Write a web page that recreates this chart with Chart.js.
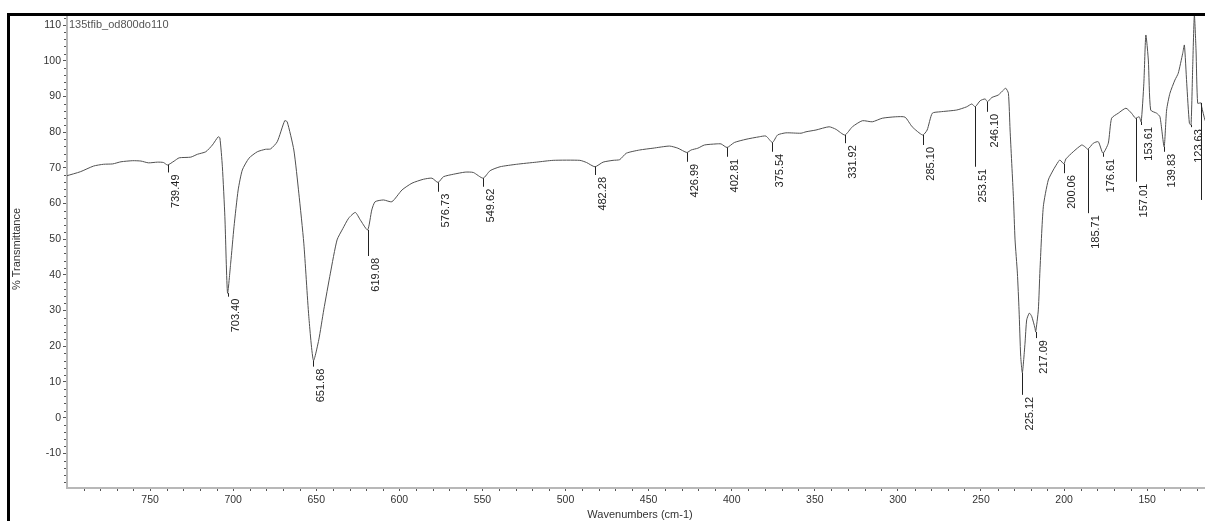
<!DOCTYPE html>
<html>
<head>
<meta charset="utf-8">
<script src="https://cdn.jsdelivr.net/npm/chart.js@4.4.1/dist/chart.umd.min.js"></script>
<style>
html,body{margin:0;padding:0;background:#fff;overflow:hidden;}
canvas{display:block;}
</style>
</head>
<body>
<canvas id="c" width="1205" height="521" style="width:1205px;height:521px"></canvas>
<script>
// ---- data (wavenumber cm-1, % transmittance) ----
const wavenumbers = [
  800, 792, 784, 778, 772.5, 767.5, 760.5, 755.5, 751, 745.5, 742, 739.5, 735.5, 732.5, 725.5, 721.5, 716.5, 712.5, 709, 708,
  706.5, 705, 703.4, 701.5, 699.5, 697, 694.5, 690.5, 685.5, 680.5, 677.5, 673.5, 669, 667.5, 663.5, 660.5, 657.5, 654.5, 651.7, 648.5,
  645.5, 641.5, 637.5, 634, 630.5, 626.5, 623.5, 619.1, 616.6, 614.6, 609.5, 604.5, 598.4, 592.4, 585.5, 580.4, 576.7, 573.5, 567.5, 560.4,
  555.5, 549.6, 545.4, 539.4, 529.4, 517.4, 507.4, 491.4, 487.4, 482.3, 477.4, 471.4, 467.4, 463.4, 455.4, 447.4, 437.4, 432.4, 427, 424.4,
  420.4, 416.4, 409.4, 406.4, 402.8, 398.4, 391.4, 383.4, 379.4, 375.5, 372.4, 367.4, 358.3, 355.3, 349.3, 341.4, 337.3, 331.9, 327.4, 321.4,
  315.4, 309.4, 301.3, 295.7, 291.4, 285.1, 282.4, 279.3, 274.6, 264.6, 258.6, 255.5, 253.5, 250.5, 247.5, 246.1, 243.5, 239.6, 236.5, 235.1,
  233.5, 232.5, 230.5, 229.5, 228.1, 227.1, 226.1, 225.1, 223.5, 222.5, 220.9, 219.5, 217.5, 217.1, 215.5, 214.5, 212.5, 209.5, 206.5, 203.5,
  202.5, 200.1, 198.9, 194.5, 189.4, 187.4, 185.7, 182.4, 179.4, 176.6, 173.4, 171.4, 167.4, 162.8, 159.4, 157.0, 154.8, 153.6, 152.0, 150.8,
  149.3, 147.9, 144.3, 142.3, 139.8, 138.3, 136.3, 133.3, 131.3, 128.6, 127.6, 126.2, 124.6, 123.6, 122.6, 121.6, 120.6, 119.6, 117.7, 117.2,
  115.2, 112
];
const transmittance = [
  67.8, 68.9, 70.5, 71.0, 71.1, 71.7, 72.0, 71.9, 71.4, 71.6, 71.5, 70.8, 71.9, 72.8, 73.0, 73.8, 74.5, 76.4, 78.7, 78.4,
  70.3, 56.3, 34.9, 43.3, 53.5, 63.8, 69.4, 72.7, 74.5, 75.2, 75.3, 77.3, 83.2, 82.9, 75.0, 62.9, 48.9, 28.4, 16.0, 21.8,
  30.2, 40.5, 49.8, 53.0, 55.9, 57.5, 55.4, 52.6, 58.2, 60.5, 61.0, 60.5, 63.8, 65.7, 66.8, 67.1, 65.9, 67.5, 68.2, 68.8,
  68.7, 67.1, 69.2, 70.3, 71.0, 71.6, 72.1, 72.1, 71.5, 70.3, 71.6, 72.1, 72.3, 74.1, 75.0, 75.5, 76.1, 75.5, 74.3, 75.0,
  75.5, 76.4, 76.7, 76.7, 75.7, 77.1, 78.0, 78.7, 78.9, 77.1, 79.2, 79.8, 79.7, 80.1, 80.6, 81.5, 80.8, 79.2, 81.5, 83.2,
  82.9, 83.9, 84.3, 84.2, 81.5, 79.2, 80.6, 85.3, 85.7, 86.2, 87.1, 87.9, 87.1, 88.8, 89.3, 88.5, 89.7, 90.4, 91.8, 92.3,
  90.9, 80.6, 61.9, 49.8, 40.5, 30.2, 17.2, 12.6, 20.9, 27.4, 29.3, 28.4, 25.1, 24.0, 30.2, 41.4, 59.1, 66.6, 69.4, 71.7,
  72.2, 71.1, 72.5, 74.5, 76.4, 75.9, 75.2, 76.9, 77.3, 74.1, 76.9, 83.9, 85.3, 86.7, 85.3, 83.9, 84.3, 82.9, 93.7, 107.2,
  100.2, 86.2, 85.3, 84.3, 75.9, 86.2, 90.9, 94.6, 96.5, 102.1, 104.4, 93.7, 82.5, 82.0, 98.3, 112.8, 103.0, 88.1, 88.2, 87.1,
  83.4, 80.0
];

// ---- peak annotations ----
const peakLabels = ["739.49","703.40","651.68","619.08","576.73","549.62","482.28","426.99","402.81","375.54","331.92","285.10",
                    "253.51","246.10","225.12","217.09","200.06","185.71","176.61","157.01","153.61","139.83","123.63",""];
const peakWn     = [739.49, 703.40, 651.68, 619.08, 576.73, 549.62, 482.28, 426.99, 402.81, 375.54, 331.92, 285.10,
                    253.51, 246.10, 225.12, 217.09, 200.06, 185.71, 176.61, 157.01, 153.61, 139.83, 123.63, 117.7];
const peakT      = [70.8, 34.9, 16.0, 52.6, 65.9, 67.1, 70.3, 74.3, 75.7, 77.1, 79.2, 79.2,
                    87.1, 88.5, 12.6, 24.0, 71.1, 75.2, 74.1, 83.9, 82.9, 75.9, 82.0, 88.2];
const peakLineEnd= [68.7, 33.9, 14.3, 45.3, 63.3, 64.7, 68.0, 71.7, 73.1, 74.5, 76.9, 76.4,
                    70.3, 85.7, 6.4, 22.3, 68.5, 57.3, 73.1, 66.1, 82.0, 74.5, 81.4, 61.0];

// ---- axes ----
const xTicks = [750, 700, 650, 600, 550, 500, 450, 400, 350, 300, 250, 200, 150];
const yTicks = [-10, 0, 10, 20, 30, 40, 50, 60, 70, 80, 90, 100, 110];
const xRange = [115.2, 800];
const yRange = [-19.7, 113.1];
const xMinorStep = 10;
const yMinorStep = 2;

const spectrumName = "135tfib_od800do110";
const xTitle = "Wavenumbers (cm-1)";
const yTitle = "% Transmittance";

const FONT = '"Liberation Sans", Arial, sans-serif';

const decor = {
  id: 'decor',
  afterDraw(chart) {
    const {ctx, chartArea: a, scales: {x, y}} = chart;
    ctx.save();
    // minor ticks
    ctx.strokeStyle = '#555';
    ctx.lineWidth = 1;
    ctx.beginPath();
    for (let v = Math.floor(xRange[1] / xMinorStep) * xMinorStep; v >= xRange[0]; v -= xMinorStep) {
      if (v % 50 === 0) continue;
      const px = Math.round(x.getPixelForValue(v)) + 0.5;
      ctx.moveTo(px, a.bottom + 1);
      ctx.lineTo(px, a.bottom + 3);
    }
    for (let v = Math.ceil(yRange[0] / yMinorStep) * yMinorStep; v <= yRange[1]; v += yMinorStep) {
      if (v % 10 === 0) continue;
      const py = Math.round(y.getPixelForValue(v)) + 0.5;
      ctx.moveTo(a.left - 3, py);
      ctx.lineTo(a.left - 1, py);
    }
    ctx.stroke();

    // peak markers
    ctx.strokeStyle = '#222';
    ctx.fillStyle = '#222';
    ctx.font = '11px ' + FONT;
    for (let i = 0; i < peakWn.length; i++) {
      const px = Math.round(x.getPixelForValue(peakWn[i])) + 0.5;
      const p1 = y.getPixelForValue(peakT[i]);
      const p2 = y.getPixelForValue(peakLineEnd[i]);
      ctx.beginPath();
      ctx.moveTo(px, p1);
      ctx.lineTo(px, p2);
      ctx.stroke();
      if (peakLabels[i]) {
        ctx.save();
        ctx.translate(px + 1.5, p2 + 2);
        ctx.rotate(-Math.PI / 2);
        ctx.textAlign = 'right';
        ctx.textBaseline = 'top';
        ctx.fillText(peakLabels[i], 0, 0);
        ctx.restore();
      }
    }

    // spectrum name
    ctx.fillStyle = '#555';
    ctx.font = '11px ' + FONT;
    ctx.textAlign = 'left';
    ctx.textBaseline = 'middle';
    ctx.fillText(spectrumName, a.left + 2, a.top + 11);

    // axis titles
    ctx.fillStyle = '#333';
    ctx.font = '11px ' + FONT;
    ctx.textAlign = 'center';
    ctx.textBaseline = 'middle';
    ctx.fillText(xTitle, (a.left + a.right) / 2 + 4, 515);
    ctx.save();
    ctx.translate(17, (a.top + a.bottom) / 2 - 2);
    ctx.rotate(-Math.PI / 2);
    ctx.fillText(yTitle, 0, 0);
    ctx.restore();

    // black frame
    ctx.strokeStyle = '#000';
    ctx.lineWidth = 3;
    ctx.beginPath();
    ctx.moveTo(8.5, chart.height);
    ctx.lineTo(8.5, 14.5);
    ctx.lineTo(chart.width, 14.5);
    ctx.stroke();
    ctx.restore();
  }
};

new Chart(document.getElementById('c').getContext('2d'), {
  type: 'line',
  data: {
    datasets: [{
      data: wavenumbers.map((w, i) => ({x: w, y: transmittance[i]})),
      borderColor: '#505050',
      borderWidth: 1,
      pointRadius: 0,
      tension: 0.2,
      fill: false
    }]
  },
  options: {
    responsive: false,
    animation: false,
    devicePixelRatio: 1,
    parsing: false,
    layout: {padding: {left: 0, right: 0, top: 14, bottom: 0}},
    plugins: {legend: {display: false}, tooltip: {enabled: false}, title: {display: false}},
    scales: {
      x: {
        type: 'linear',
        reverse: true,
        min: xRange[0],
        max: xRange[1],
        afterFit(s) { s.height = 33; s.paddingLeft = 0; s.paddingRight = 0; },
        afterBuildTicks(s) { s.ticks = xTicks.map(v => ({value: v})); },
        grid: {display: true, drawOnChartArea: false, drawTicks: true, tickLength: 3, color: '#555', tickColor: '#555'},
        border: {display: true, color: '#b8b8b8', width: 2},
        ticks: {font: {family: FONT, size: 10.5}, color: '#333', padding: 3, maxRotation: 0, autoSkip: false,
                callback: v => String(v)}
      },
      y: {
        type: 'linear',
        min: yRange[0],
        max: yRange[1],
        afterFit(s) { s.width = 67; },
        afterBuildTicks(s) { s.ticks = yTicks.map(v => ({value: v})); },
        grid: {display: true, drawOnChartArea: false, drawTicks: true, tickLength: 4, color: '#555', tickColor: '#555'},
        border: {display: true, color: '#b8b8b8', width: 2},
        ticks: {font: {family: FONT, size: 10.5}, color: '#333', padding: 2, autoSkip: false,
                callback: v => String(v)}
      }
    }
  },
  plugins: [decor]
});
</script>
</body>
</html>
